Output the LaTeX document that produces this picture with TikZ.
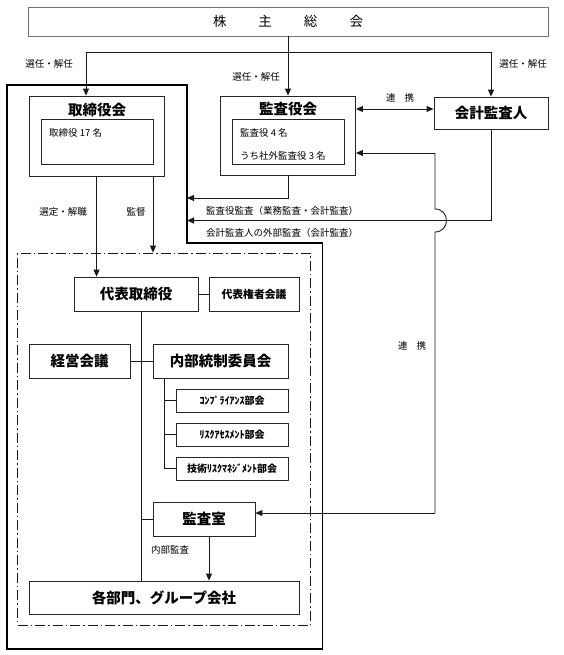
\documentclass[tikz,border=0pt]{standalone}
\usepackage{fontspec}
\setmainfont{Noto Sans CJK JP}
\usetikzlibrary{arrows.meta}
\tikzset{
  bx/.style={draw=black!85, line width=0.8pt, inner sep=0pt, fill=white},
  ttl/.style={font=\fontsize{14.5pt}{17pt}\selectfont\bfseries, inner sep=0pt},
  mid/.style={font=\fontsize{10.8pt}{13pt}\selectfont\bfseries, inner sep=0pt},
  sub/.style={font=\fontsize{10pt}{12pt}\selectfont\bfseries, inner sep=0pt},
  lbl/.style={font=\fontsize{9.5pt}{11pt}\selectfont, inner sep=0pt},
  ln/.style={draw=black!90, line width=0.9pt},
  arr/.style={ln, -{Triangle[length=7pt,width=6pt]}},
  darr/.style={ln, {Triangle[length=7pt,width=6pt]}-{Triangle[length=7pt,width=6pt]}},
  framel/.style={draw=black, line width=1.4pt},
  dashdot/.style={draw=black!90, line width=0.8pt, dash pattern=on 10pt off 3pt on 1.5pt off 3pt}
}
\begin{document}
\begin{tikzpicture}[x=1pt,y=-1pt]
\useasboundingbox (0,0) rectangle (564,655);
% outer frame of board
\draw[framel] (7,85) -- (187,85) -- (187,243) -- (322.5,243) -- (322.5,649) -- (7,649) -- cycle;
% dash-dot execution frame
\node[dashdot, minimum width=293pt, minimum height=372pt, inner sep=0pt] (dd) at (164,439) {};

% shareholders
\node[draw=black!55, line width=0.8pt, minimum width=520pt, minimum height=29pt, inner sep=0pt,
      font=\fontsize{13.5pt}{16pt}\selectfont] (kabu) at (288,21.5)
      {株\hspace{32pt}主\hspace{32pt}総\hspace{32pt}会};

% board of directors
\node[bx, minimum width=135pt, minimum height=80pt] (toriO) at (96.5,136) {};
\node[ttl] (toriT) at (97,110) {取締役会};
\node[bx, minimum width=112pt, minimum height=45pt] (toriI) at (97,141.5) {};
\node[lbl, anchor=west] (toriN) at (49,133) {取締役 17 名};

% audit board
\node[bx, minimum width=135pt, minimum height=79pt] (kansaO) at (288,135.5) {};
\node[ttl] (kansaT) at (288,109.5) {監査役会};
\node[bx, minimum width=112pt, minimum height=45pt] (kansaI) at (288,141.5) {};
\node[lbl, anchor=west] (kansaN1) at (240,133) {監査役 4 名};
\node[lbl, anchor=west] (kansaN2) at (240,156) {うち社外監査役 3 名};

% accounting auditor
\node[bx, ttl, minimum width=114pt, minimum height=32pt] (kaikei) at (491,113) {会計監査人};

% execution side
\node[bx, ttl, minimum width=124pt, minimum height=34pt] (daihyo) at (136,294) {代表取締役};
\node[bx, mid, minimum width=90pt, minimum height=34pt] (daihyoken) at (254,294) {代表権者会議};
\node[bx, ttl, minimum width=101pt, minimum height=34pt] (keiei) at (79.5,361) {経営会議};
\node[bx, ttl, minimum width=135pt, minimum height=34pt] (naibu) at (220.5,361) {内部統制委員会};
\node[bx, sub, minimum width=112pt, minimum height=23pt] (comp) at (232,400.5) {ｺﾝﾌﾟﾗｲｱﾝｽ部会};
\node[bx, sub, minimum width=112pt, minimum height=23pt] (risk) at (232,434.5) {ﾘｽｸｱｾｽﾒﾝﾄ部会};
\node[bx, sub, minimum width=112pt, minimum height=23pt] (gijutsu) at (232,468.5) {技術ﾘｽｸﾏﾈｼﾞﾒﾝﾄ部会};
\node[bx, ttl, minimum width=102pt, minimum height=34pt] (kansaS) at (204,519) {監査室};
\node[bx, ttl, minimum width=270pt, minimum height=33pt] (kakubu) at (164,597.5) {各部門、グループ会社};

% labels
\node[lbl] (l1) at (49,64) {選任・解任};
\node[lbl] (l2) at (256,77) {選任・解任};
\node[lbl] (l3) at (523,64) {選任・解任};
\node[lbl] (l4) at (400,98) {連\hspace{9pt}携};
\node[lbl] (l5) at (63,212) {選定・解職};
\node[lbl] (l6) at (136,212) {監督};
\node[lbl, anchor=west] (l7) at (206,211) {監査役監査（業務監査・会計監査）};
\node[lbl, anchor=west] (l8) at (206,233) {会計監査人の外部監査（会計監査）};
\node[lbl] (l9) at (412,346) {連\hspace{9pt}携};
\node[lbl] (l10) at (170,550) {内部監査};

% coordinates
\coordinate (hL) at (86,52);
\coordinate (hR) at (491,52);
\coordinate (lnk) at (400,109);
\coordinate (fA) at (187,198);
\coordinate (fB) at (187,220.5);
\coordinate (vTop) at (435,153);
\coordinate (hopA) at (435,209);
\coordinate (hopB) at (435,232);
\coordinate (vBot) at (435,513);
\coordinate (t2) at (153,176);
\coordinate (trk) at (141.7,0);
\coordinate (st) at (164.3,0);
\coordinate (ks) at (209,0);

% connectors from shareholders
\draw[arr] (kabu.south) -- (kansaO.north);
\draw[ln] (hL) -- (hR);
\draw[arr] (hL) -- (hL |- toriO.north);
\draw[arr] (hR) -- (kaikei.north);
\draw[darr] (kansaO.east |- lnk) -- (kaikei.west |- lnk);

% audits into board frame
\draw[arr] (kansaO.south) |- (fA);
\draw[arr] (kaikei.south) |- (fB);

% cooperation line with hop
\draw[arr] (vTop) -- (kansaO.east |- vTop);
\draw[ln] (vTop) -- (hopA) .. controls (450.3,209) and (450.3,232) .. (hopB) -- (vBot);
\draw[arr] (vBot) -- (kansaS.east |- vBot);

% board to execution
\draw[arr] (toriO.south) -- (toriO.south |- daihyo.north);
\draw[arr] (t2) -- (t2 |- dd.north);

% execution tree
\draw[ln] (daihyo) -- (daihyoken);
\draw[ln] (trk |- daihyo.south) -- (trk |- kakubu.north);
\draw[ln] (keiei) -- (naibu);
\draw[ln] (st |- naibu.south) |- (gijutsu.west);
\draw[ln] (st |- comp.west) -- (comp.west);
\draw[ln] (st |- risk.west) -- (risk.west);
\draw[ln] (trk |- kansaS.west) -- (kansaS.west);
\draw[arr] (ks |- kansaS.south) -- (ks |- kakubu.north);
\end{tikzpicture}
\end{document}
